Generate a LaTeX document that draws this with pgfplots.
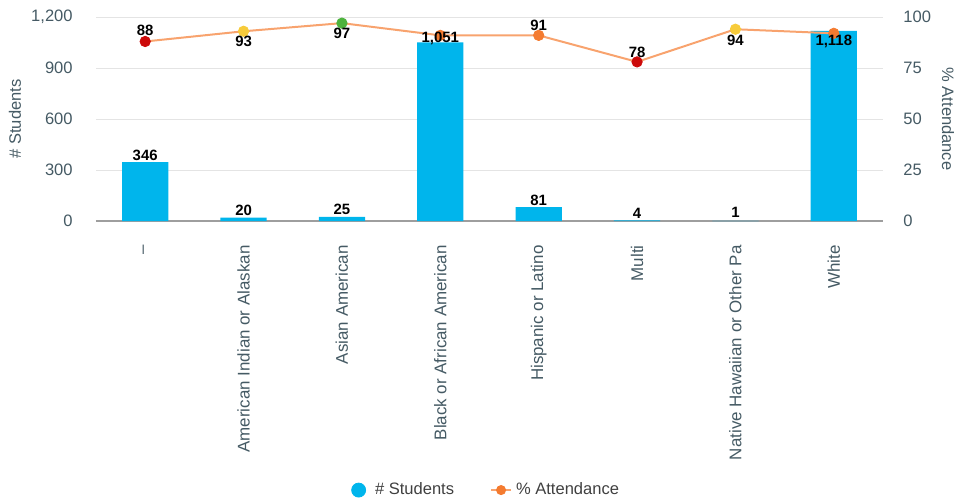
\documentclass[border=0pt]{standalone}
\usepackage{pgfplots}
\usepackage{pgfplotstable}
\pgfplotsset{compat=1.18}
\usepackage{fontspec}
\setmainfont{Liberation Sans}

\definecolor{barblue}{HTML}{00B5EC}
\definecolor{lineorange}{HTML}{F8A36E}
\definecolor{mred}{HTML}{CC0A0A}
\definecolor{myellow}{HTML}{F7CB3A}
\definecolor{mgreen}{HTML}{4DB33D}
\definecolor{morange}{HTML}{F47B30}
\definecolor{txt}{HTML}{455A64}
\definecolor{gridc}{HTML}{E4E4E4}
\definecolor{axisc}{HTML}{9E9E9E}

% students per group, label, label shift (bp)
\pgfplotstableread{
x n lab dy
0 346 346 3.5
1 20 20 3.5
2 25 25 3.5
3 1051 1,051 2
4 81 81 3.5
5 4 4 3.5
6 1 1 4
7 1118 1,118 -5.5
}\students

% attendance, label, marker colour, label shift (bp)
\pgfplotstableread{
x a lab c dy
0 88 88 mred 5.5
1 93 93 myellow -5
2 97 97 mgreen -5
3 91 {} morange 0
4 91 91 morange 5
5 78 78 mred 5
6 94 94 myellow -5.5
7 92 {} morange 0
}\attend

\tikzset{lbl/.style={font=\fontsize{7.5}{9}\selectfont\bfseries, text=black, anchor=center, inner sep=0pt}}

\begin{document}
\begin{tikzpicture}[font=\fontsize{8.3}{10}\selectfont]
\pgfplotsset{
  base/.style={
    scale only axis, width=393.5bp, height=102bp,
    xmin=-0.5, xmax=7.5,
    major tick length=0pt,
    /pgf/number format/assume math mode=true,
  },
}

\begin{axis}[base, name=main,
  ymin=0, ymax=1200, ytick={0,300,...,1200},
  ymajorgrids, grid style={gridc, line width=0.5bp},
  axis x line*=bottom, axis y line*=left,
  x axis line style={axisc, line width=0.8bp, -},
  y axis line style={draw=none},
  xtick={0,...,7},
  xticklabels={--, American Indian or Alaskan, Asian American, Black or African American, Hispanic or Latino, Multi, Native Hawaiian or Other Pa, White},
  xticklabel style={rotate=90, anchor=east, inner sep=0pt, text=txt, font=\fontsize{8.5}{10}\selectfont},
  xticklabel shift=12bp,
  yticklabel style={inner sep=0pt, text=txt, anchor=east},
  yticklabel shift=11.5bp,
  ylabel={\# Students},
  every axis y label/.style={at={(axis description cs:-0.1029,0.5)}, rotate=90, anchor=center, text=txt},
]
\addplot[ybar, bar width=0.47, fill=barblue, draw=none] table[x=x, y=n]{\students};
\end{axis}

\begin{axis}[base, at={(main.south west)}, anchor=south west,
  ymin=0, ymax=100, ytick={0,25,...,100},
  axis y line*=right, axis x line=none,
  y axis line style={draw=none},
  yticklabel style={inner sep=0pt, text=txt, anchor=west},
  yticklabel shift=10bp,
  ylabel={\% Attendance},
  every axis y label/.style={at={(axis description cs:1.0826,0.5)}, rotate=-90, anchor=center, text=txt},
  legend style={at={(0.497,-1.319)}, anchor=center, draw=none, fill=none,
    legend columns=2, text=black!75, font=\fontsize{8.3}{10}\selectfont,
    /tikz/every even column/.append style={column sep=16bp}},
]
\addlegendimage{legend image code/.code={\fill[barblue] (0bp,0) circle (3.5bp); \path (6bp,0);}}
\addlegendentry{\# Students}
\addlegendimage{legend image code/.code={\draw[lineorange, line width=1bp] (0,0) -- (10bp,0); \fill[morange] (5bp,0) circle (2.3bp);}}
\addlegendentry{\% Attendance}

% line
\addplot[forget plot, lineorange, line width=1bp, mark=none] table[x=x, y=a]{\attend};
% coloured markers
\addplot[forget plot, only marks, scatter, point meta=explicit symbolic,
  scatter/classes={
    mred={mark=*, mark size=2.6bp, fill=mred, draw=mred},
    myellow={mark=*, mark size=2.6bp, fill=myellow, draw=myellow},
    mgreen={mark=*, mark size=2.6bp, fill=mgreen, draw=mgreen},
    morange={mark=*, mark size=2.6bp, fill=morange, draw=morange}},
] table[x=x, y=a, meta=c]{\attend};
% labels
\addplot[forget plot, draw=none, mark=none, point meta=explicit symbolic,
  visualization depends on={\thisrow{dy} \as \dy},
  nodes near coords,
  every node near coord/.append style={lbl, yshift=\dy bp},
] table[x=x, y=a, meta=lab]{\attend};
\end{axis}

\begin{axis}[base, at={(main.south west)}, anchor=south west,
  ymin=0, ymax=1200, hide axis]
\addplot[draw=none, mark=none, point meta=explicit symbolic,
  visualization depends on={\thisrow{dy} \as \dy},
  nodes near coords,
  every node near coord/.append style={lbl, yshift=\dy bp},
] table[x=x, y=n, meta=lab]{\students};
\end{axis}

\pgfresetboundingbox
\path[use as bounding box] ([shift={(-48bp,-141bp)}]main.south west) rectangle ([shift={(38.5bp,8.5bp)}]main.north east);
\end{tikzpicture}
\end{document}
